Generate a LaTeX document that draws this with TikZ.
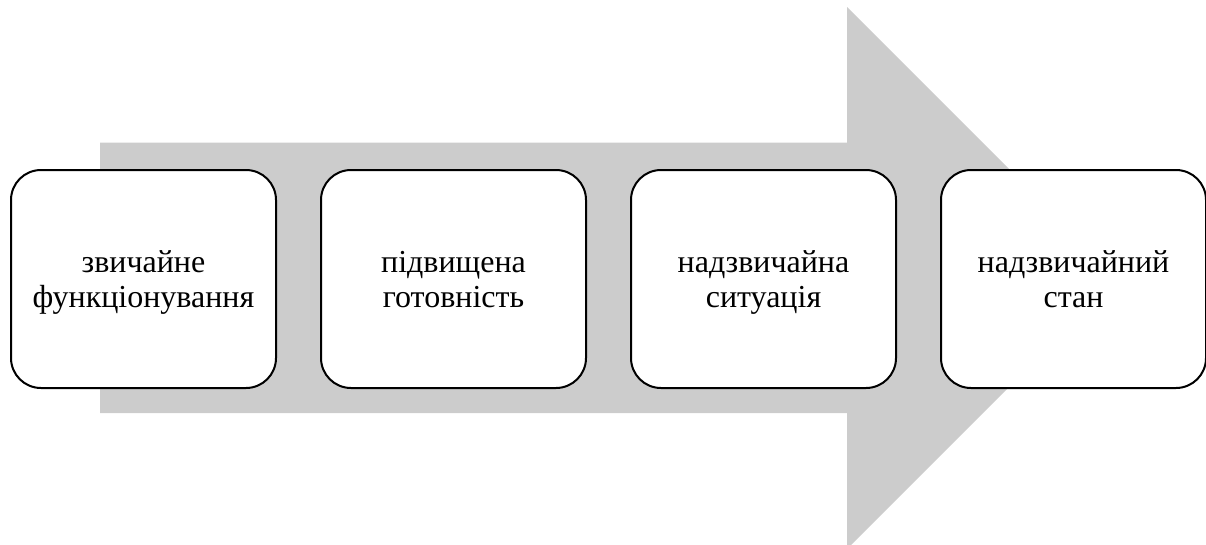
\documentclass[tikz,border=0pt]{standalone}
\usepackage{fontspec}
\setmainfont{Liberation Serif}
\newcommand\stgtop{\rule{0pt}{30pt}}
\newcommand\stgbot{\rule[-9pt]{0pt}{9pt}}
\begin{document}
\begin{tikzpicture}[x=1pt,y=-1pt,
  stagebox/.style={draw=black,line width=2pt,fill=white,rounded corners=30pt,
    minimum width=265pt,minimum height=218pt,inner sep=0pt,anchor=north west,
    align=center,font=\fontsize{32}{35}\selectfont},
  bigarrow/.style={fill=black!20,draw=none}]
\useasboundingbox (0,0) rectangle (1206,544);
\path[bigarrow] (100,142.5) -- (847,142.5) -- (847,7) -- (1118,278) -- (847,549) -- (847,413) -- (100,413) -- cycle;
\node[stagebox] (s1) at (10,169) {\stgtop звичайне\\функціонування\stgbot};
\node[stagebox] (s2) at (320,169) {\stgtop підвищена\\готовність\stgbot};
\node[stagebox] (s3) at (630,169) {\stgtop надзвичайна\\ситуація\stgbot};
\node[stagebox] (s4) at (940,169) {\stgtop надзвичайний\\стан\stgbot};
\end{tikzpicture}
\end{document}
